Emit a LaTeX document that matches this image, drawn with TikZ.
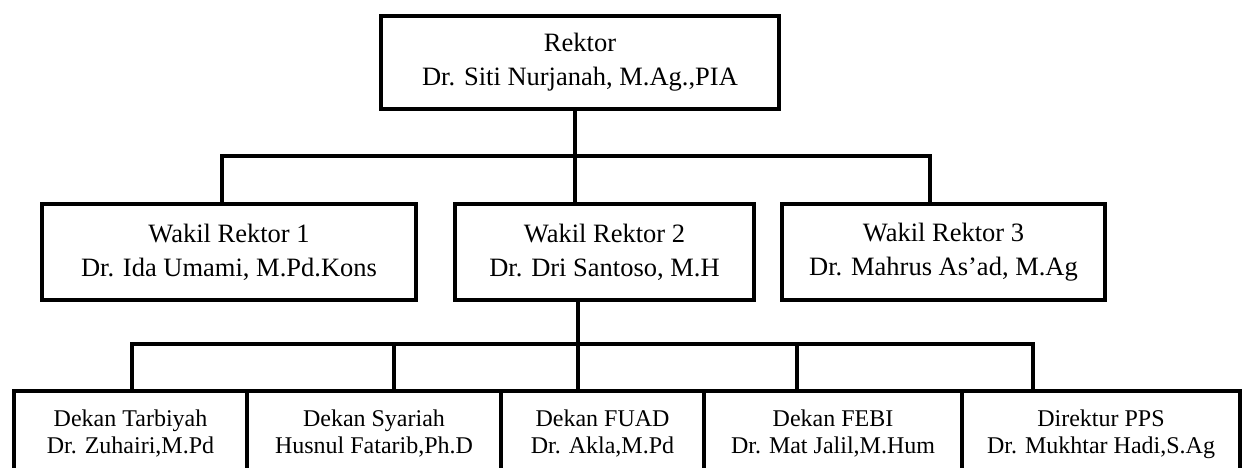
\documentclass[tikz,border=0pt]{standalone}
\usepackage{fontspec}
\setmainfont{Liberation Serif}
\begin{document}
\begin{tikzpicture}[x=1pt,y=-1pt,
  box/.style={draw, line width=4.3pt, rectangle, align=center, inner sep=0pt,
    font=\fontsize{26.5}{34}\selectfont},
  sbox/.style={draw, line width=4.3pt, rectangle, align=center, inner sep=0pt,
    font=\fontsize{24}{27}\selectfont, minimum height=86pt},
  link/.style={line width=4.5pt}]
\clip (0,0) rectangle (1246,467);
\useasboundingbox (0,0) rectangle (1246,467);
% top
\node[box, minimum width=398pt, minimum height=93pt] (rektor) at (580,62.5)
  {Rektor\\Dr. Siti Nurjanah, M.Ag.,PIA};
% wakil rektor
\node[box, minimum width=374pt, minimum height=96pt] (wr1) at (229,252)
  {Wakil Rektor 1\\Dr. Ida Umami, M.Pd.Kons};
\node[box, minimum width=299pt, minimum height=96pt] (wr2) at (604.5,252)
  {Wakil Rektor 2\\Dr. Dri Santoso, M.H};
\node[box, minimum width=323pt, minimum height=96pt] (wr3) at (943.5,252)
  {Wakil Rektor 3\\Dr. Mahrus As'ad, M.Ag};
% bottom row
\node[sbox, minimum width=233pt] (d1) at (130.5,434) {Dekan Tarbiyah\\Dr. Zuhairi,M.Pd};
\node[sbox, minimum width=254pt] (d2) at (374,434) {Dekan Syariah\\Husnul Fatarib,Ph.D};
\node[sbox, minimum width=203pt] (d3) at (602.5,434) {Dekan FUAD\\Dr. Akla,M.Pd};
\node[sbox, minimum width=258pt] (d4) at (833,434) {Dekan FEBI\\Dr. Mat Jalil,M.Hum};
\node[sbox, minimum width=278pt] (d5) at (1101,434) {Direktur PPS\\Dr. Mukhtar Hadi,S.Ag};
% junctions
\coordinate (jt) at (575,156);
\coordinate (jl) at (222,156);
\coordinate (jr) at (930,156);
\coordinate (jb) at (578,344);
\coordinate (b1) at (132,344);
\coordinate (b2) at (394,344);
\coordinate (b4) at (797,344);
\coordinate (b5) at (1033,344);
% connectors
\draw[link] (rektor.south -| jt) -- (wr2.north -| jt);
\draw[link] (wr1.north -| jl) -- (jl) -- (jr) -- (wr3.north -| jr);
\draw[link] (wr2.south -| jb) -- (d3.north -| jb);
\draw[link] (d1.north -| b1) -- (b1) -- (b5) -- (d5.north -| b5);
\draw[link] (d2.north -| b2) -- (b2);
\draw[link] (d4.north -| b4) -- (b4);
\end{tikzpicture}
\end{document}
